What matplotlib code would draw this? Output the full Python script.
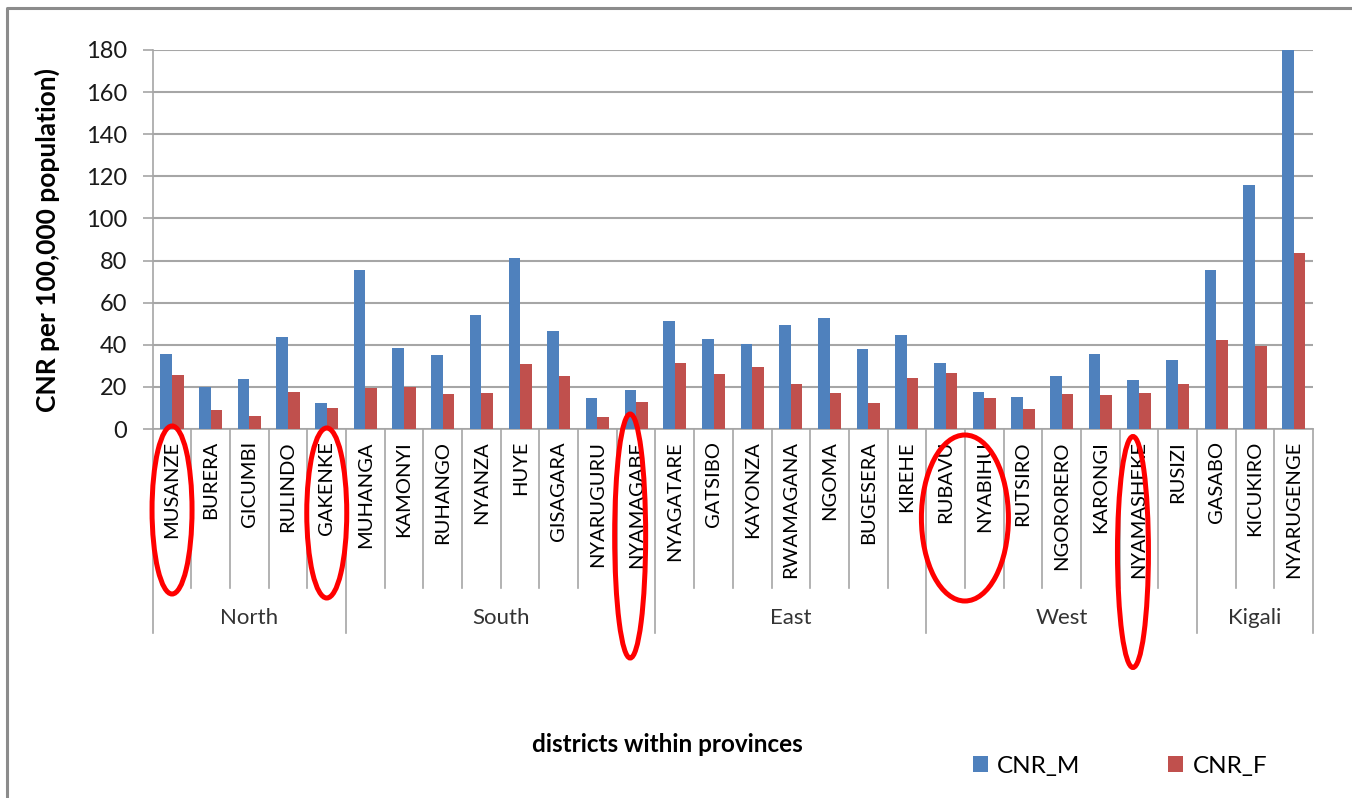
#!/usr/bin/env python3

'''
Case notification rate (CNR per 100,000 population) of males and females
for every district of Rwanda, grouped by province.
Districts of interest are ringed in red.
'''

import numpy as np
import matplotlib.pyplot as plt
from matplotlib.patches import Ellipse, Patch
from matplotlib.lines import Line2D

W, H = 1352, 798
FONT = 'Lato'
BLUE = '#4f81bd'
RED = '#c0504d'
GRID = '#a6a6a6'

PROVINCES = ['North', 'South', 'East', 'West', 'Kigali']
PROVINCE_SIZES = [5, 8, 7, 7, 3]
DISTRICTS = [
    'MUSANZE', 'BURERA', 'GICUMBI', 'RULINDO', 'GAKENKE',
    'MUHANGA', 'KAMONYI', 'RUHANGO', 'NYANZA', 'HUYE', 'GISAGARA',
    'NYARUGURU', 'NYAMAGABE',
    'NYAGATARE', 'GATSIBO', 'KAYONZA', 'RWAMAGANA', 'NGOMA', 'BUGESERA',
    'KIREHE',
    'RUBAVU', 'NYABIHU', 'RUTSIRO', 'NGORORERO', 'KARONGI', 'NYAMASHEKE',
    'RUSIZI',
    'GASABO', 'KICUKIRO', 'NYARUGENGE',
]
CNR_M = [35.6, 20.0, 23.8, 43.5, 12.4,
         75.3, 38.6, 35.0, 54.3, 81.2, 46.6, 14.8, 18.4,
         51.5, 42.9, 40.4, 49.6, 52.6, 38.0, 44.6,
         31.3, 17.8, 15.4, 25.1, 35.6, 23.4, 32.6,
         75.3, 115.7, 180.0]
CNR_F = [25.7, 9.2, 6.2, 17.8, 9.9,
         19.7, 20.0, 16.6, 17.2, 30.7, 25.1, 5.6, 13.0,
         31.3, 25.9, 29.6, 21.6, 17.3, 12.4, 24.0,
         26.4, 14.8, 9.4, 16.7, 16.0, 17.3, 21.6,
         42.3, 39.2, 83.7]

# districts ringed in red: (first index, last index)
HIGHLIGHTS = [(0, 0), (4, 4), (12, 12), (20, 21), (25, 25)]

# plot area in pixels
LEFT, RIGHT, TOP, BOTTOM = 152.7, 1313, 50, 429


def fx(x):
    return x / W


def fy(y):
    return 1 - y / H


def ay(y):
    '''pixel row -> axes fraction of the main axes'''
    return (BOTTOM - y) / (BOTTOM - TOP)


fig = plt.figure(figsize=(W / 100, H / 100), dpi=100)
plt.rcParams['font.family'] = [FONT, 'DejaVu Sans']
ax = fig.add_axes([fx(LEFT), fy(BOTTOM), fx(RIGHT - LEFT),
                   (BOTTOM - TOP) / H])

n = len(DISTRICTS)
x = np.arange(n) + 0.5
ax.bar(x - 0.15, CNR_M, 0.3, color=BLUE, zorder=3, label='CNR_M')
ax.bar(x + 0.15, CNR_F, 0.3, color=RED, zorder=3, label='CNR_F')

ax.set_xlim(0, n)
ax.set_ylim(0, 180)
ax.set_yticks(np.arange(0, 181, 20))
ax.yaxis.grid(True, color=GRID, linewidth=1.5, zorder=0)
ax.tick_params(axis='y', length=7.2, width=1.2, color=GRID, pad=11,
               labelsize=17, labelcolor='#1a1a1a')
ax.set_xticks([])
for side in ['top', 'right']:
    ax.spines[side].set_visible(False)
for side in ['left', 'bottom']:
    ax.spines[side].set_color(GRID)
    ax.spines[side].set_linewidth(1.2)

# two-level category axis: district separators, then province separators
xt = ax.get_xaxis_transform()
bounds = np.cumsum([0] + PROVINCE_SIZES)
for k in range(n + 1):
    low = ay(633) if k in bounds else ay(588)
    ax.plot([k, k], [0, low], transform=xt, color=GRID, lw=1.2,
            clip_on=False)
for i, name in enumerate(DISTRICTS):
    ax.text(x[i], ay(441), name, transform=xt, rotation=90,
            ha='center', va='top', fontsize=14.5, color='black')
for p, name in enumerate(PROVINCES):
    mid = (bounds[p] + bounds[p + 1]) / 2
    ax.text(mid, ay(618), name, transform=xt, ha='center', va='center',
            fontsize=16, color='#333333')

fig.text(fx(47), fy(240), 'CNR per 100,000 population)', rotation=90,
         ha='center', va='center', fontsize=19, fontweight='bold')
fig.text(fx(667), fy(744), 'districts within provinces',
         ha='center', va='center', fontsize=17.5, fontweight='bold')

handles = [Patch(facecolor=BLUE, label='CNR_M'),
           Patch(facecolor=RED, label='CNR_F')]
fig.legend(handles=handles, loc='center', ncol=2,
           bbox_to_anchor=(fx(1120), fy(766)), frameon=False,
           fontsize=17.5, handlelength=0.6, handleheight=0.6,
           handletextpad=0.4, columnspacing=3.6)

# overlay in pixel coordinates for the frame and the red rings
over = fig.add_axes([0, 0, 1, 1], zorder=10)
over.set_xlim(0, W)
over.set_ylim(H, 0)
over.axis('off')
over.patch.set_alpha(0)
over.add_line(Line2D([7, 7, W], [H, 8, 8], color='#8c8c8c', lw=2.2))

step = (RIGHT - LEFT) / n
ring_y = {0: (510, 168), 4: (513, 170), 12: (536, 244),
          20: (518, 166), 25: (552, 231)}
for first, last in HIGHLIGHTS:
    cx = LEFT + (first + last + 1) / 2 * step
    cy, h = ring_y[first]
    w = 40 if first == last else 87
    if first in (12, 25):
        w, cx = 31, cx - 6
    over.add_patch(Ellipse((cx, cy), w, h, fill=False, edgecolor='red',
                           linewidth=3.6))

fig.savefig('out.png', dpi=100)
